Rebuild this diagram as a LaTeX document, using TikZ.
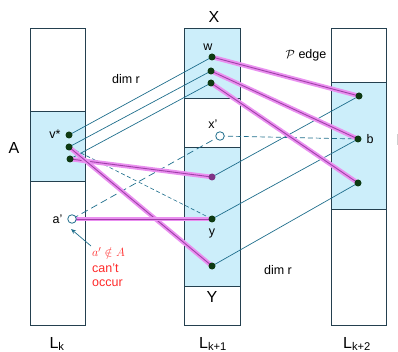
\documentclass[tikz,border=0pt]{standalone}
\usepackage{fontspec}
\setmainfont{Liberation Sans}
\usepackage{amsmath,amssymb}
\usetikzlibrary{arrows.meta}

\definecolor{cellblue}{HTML}{CCEEFA}
\definecolor{frameline}{HTML}{24404F}
\definecolor{rline}{HTML}{1F6E8C}
\definecolor{phalo}{HTML}{EA90F0}
\definecolor{pcore}{HTML}{A040A8}
\definecolor{dotgreen}{HTML}{0E3A12}
\definecolor{notered}{HTML}{FF2A2A}

\begin{document}
\begin{tikzpicture}[
    x=1pt, y=-1pt,
    every node/.style={font=\fontsize{12.5}{14}\selectfont},
    big/.style={font=\fontsize{16}{18}\selectfont},
    cellw/.style={draw=frameline, line width=0.9pt, fill=white},
    cellb/.style={draw=frameline, line width=0.9pt, fill=cellblue},
    vdot/.style={circle, fill=dotgreen, inner sep=0pt, minimum size=7pt},
    odot/.style={circle, draw=rline, fill=white, line width=0.8pt, inner sep=0pt, minimum size=8.5pt},
    rlink/.style={rline, line width=0.7pt},
    plink/.style={draw=pcore, line width=0.9pt, preaction={draw=phalo, line width=4.5pt}},
]
\useasboundingbox (0,0) rectangle (398,352);

% === Layer columns ===
% L_k
\draw[cellw] (30,28) rectangle (85,111);
\draw[cellb] (30,111) rectangle (85,181);
\draw[cellw] (30,181) rectangle (85,325);
% L_{k+1}
\draw[cellb] (184,28) rectangle (240,98);
\draw[cellw] (184,98) rectangle (240,147);
\draw[cellb] (184,147) rectangle (240,286);
\draw[cellw] (184,286) rectangle (240,325);
% L_{k+2}
\draw[cellw] (331,28) rectangle (386,82);
\draw[cellb] (331,82) rectangle (386,209);
\draw[cellw] (331,209) rectangle (386,325);

% === Vertex positions ===
\coordinate (vs) at (69,135);
\coordinate (v2) at (69,147);
\coordinate (v3) at (70,159);
\coordinate (ap) at (72,219);
\coordinate (w)  at (212,57);
\coordinate (w2) at (211,71);
\coordinate (w3) at (211,83);
\coordinate (xp) at (220,136);
\coordinate (m1) at (212,177);
\coordinate (y)  at (212,219);
\coordinate (m3) at (212,266);
\coordinate (r1) at (359,96);
\coordinate (b)  at (358,139);
\coordinate (r3) at (358,183);

% === dim r edges ===
\draw[rlink] (vs) -- (w);
\draw[rlink] (v2) -- (w2);
\draw[rlink] (v3) -- (w3);
\draw[rlink] (m1) -- (r1);
\draw[rlink] (y) -- (b);
\draw[rlink] (m3) -- (r3);

% === dashed edges ===
\draw[rlink, dash pattern=on 7pt off 4pt] (ap) -- (xp);
\draw[rlink, dash pattern=on 5pt off 3pt] (xp) -- (b);
\draw[rlink, line width=0.6pt, dash pattern=on 4pt off 2.5pt] (v2) -- (y);

% === P edges ===
\draw[plink] (w) -- (r1);
\draw[plink] (w2) -- (b);
\draw[plink] (w3) -- (r3);
\draw[plink] (v3) -- (m1);
\draw[plink] (v2) -- (m3);
\draw[plink] (ap) -- (y);

% === Vertices ===
\foreach \p in {vs,v2,v3,w,w2,w3,y,m3,r1,b,r3}
    \node[vdot] (\p dot) at (\p) {};
\node[vdot, fill=pcore!80!black] (m1dot) at (m1) {};
\node[odot] (apdot) at (ap) {};
\node[odot] (xpdot) at (xp) {};

% === Vertex labels ===
\node[anchor=east] (vslab) at (64,134) {v*};
\node (wlab) at (208,47) {w};
\node (xplab) at (213,124) {x'};
\node (ylab) at (212,233) {y};
\node[anchor=west] (blab) at (363,139) {b};
\node[anchor=east] (aplab) at (66,219) {a'};

% === Set and layer labels ===
\node[big] (Alab) at (14,148) {A};
\node[big] (Xlab) at (214,17) {X};
\node[big] (Ylab) at (212,297) {Y};
\node[big, anchor=west] (Blab) at (393,140) {B};
\node[big] (Lk) at (57,344) {L\textsubscript{k}};
\node[big] (Lk1) at (213,344) {L\textsubscript{k+1}};
\node[big] (Lk2) at (357,344) {L\textsubscript{k+2}};

% === Edge labels ===
\node (dim1) at (126,79) {dim r};
\node (dim2) at (278,270) {dim r};
\node (pedge) at (306,55) {$\mathcal{P}$ edge};

% === Note on a' ===
\node[text=notered, align=left, anchor=north west, inner sep=1pt] (note) at (91,246)
    {$a'\notin A$\\[2pt]can't\\occur};
\coordinate (tip) at (71,229);
\draw[rlink, -{Stealth[length=5pt, width=4pt]}] (note.north west) -- (tip);

\end{tikzpicture}
\end{document}
